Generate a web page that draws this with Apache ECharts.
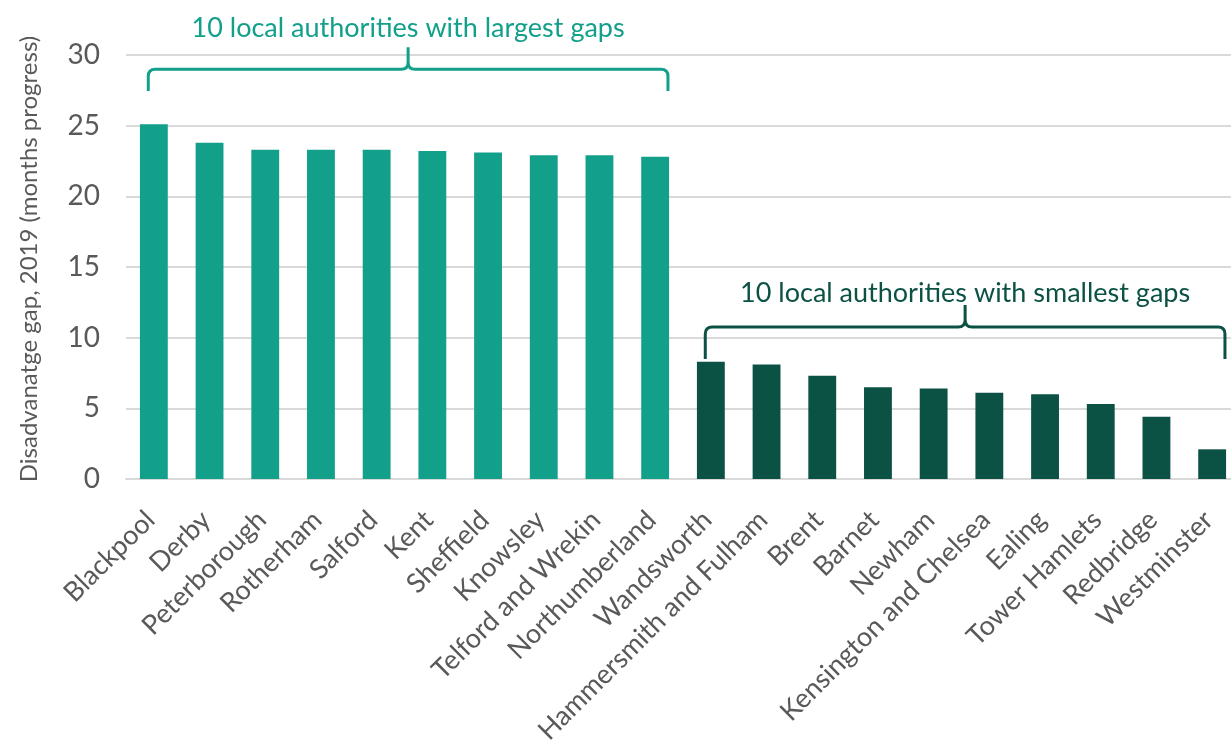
<!DOCTYPE html>
<html><head><meta charset="utf-8">
<script src="https://cdn.jsdelivr.net/npm/echarts@6/dist/echarts.min.js"></script>
<style>html,body{margin:0;padding:0;background:#fff}#c{width:1231px;height:742px}</style>
</head><body><div id="c"></div>
<script>
const categories = ['Blackpool','Derby','Peterborough','Rotherham','Salford','Kent','Sheffield','Knowsley','Telford and Wrekin','Northumberland','Wandsworth','Hammersmith and Fulham','Brent','Barnet','Newham','Kensington and Chelsea','Ealing','Tower Hamlets','Redbridge','Westminster'];
const largestGaps = [25.1,23.8,23.3,23.3,23.3,23.2,23.1,22.9,22.9,22.8];
const smallestGaps = [8.3,8.1,7.3,6.5,6.4,6.1,6.0,5.3,4.4,2.1];
const yMin = 0, yMax = 30, yStep = 5;
const yTitle = 'Disadvanatge gap, 2019 (months progress)';
const bracketLabels = ['10 local authorities with largest gaps','10 local authorities with smallest gaps'];
const bracketStart = [0,10];
const bracketEnd = [9,19];

const FONT = 'Lato';
const TEAL = '#13a08a', DARK = '#0b5144', GREY = '#595959';
// bracket geometry in axis units (tip, line, peak, text)
const bracketGeom = [
  {tip:27.45, line:29.0, peak:30.55, text:31.9, color:TEAL},
  {tip:8.49, line:10.76, peak:12.31, text:13.16, color:DARK}
];

const seriesLarge = categories.map((c,i)=> i < largestGaps.length ? largestGaps[i] : null);
const seriesSmall = categories.map((c,i)=> i >= largestGaps.length ? smallestGaps[i-largestGaps.length] : null);

const chart = echarts.init(document.getElementById('c'), null, {renderer:'canvas'});
chart.setOption({
  animation:false,
  backgroundColor:'#fff',
  grid:{left:126,width:1114,top:55,bottom:263,containLabel:false,outerBoundsMode:'none'},
  xAxis:{
    type:'category', data:categories,
    axisLine:{lineStyle:{color:'#d9d9d9',width:2}},
    axisTick:{show:false},
    axisLabel:{interval:0,rotate:45,fontFamily:FONT,fontSize:27,color:GREY,margin:33,verticalAlign:'middle',padding:[24,5,0,0]}
  },
  yAxis:{
    type:'value', min:yMin, max:yMax, interval:yStep,
    name:yTitle, nameLocation:'middle', nameGap:85,
    nameTextStyle:{fontFamily:FONT,fontSize:24,color:GREY,padding:[0,0,0,16]},
    axisLine:{show:false}, axisTick:{show:false},
    axisLabel:{fontFamily:FONT,fontSize:28,color:GREY,margin:26},
    splitLine:{lineStyle:{color:'#d9d9d9',width:2}}
  },
  series:[
    {type:'bar',data:seriesLarge,barWidth:'50%',barGap:'-100%',itemStyle:{color:TEAL}},
    {type:'bar',data:seriesSmall,barWidth:'50%',barGap:'-100%',itemStyle:{color:DARK}},
    {
      type:'custom', coordinateSystem:'cartesian2d', silent:true, clip:false,
      data: bracketStart.map((s,i)=>[s, bracketEnd[i], i]),
      encode:{x:[0,1]},
      renderItem:function(params, api){
        const s = api.value(0), e = api.value(1), k = api.value(2);
        const g = bracketGeom[k];
        const band = api.size([1,0])[0];
        const p0 = api.coord([s, g.line]);
        const p1 = api.coord([e, g.line]);
        const xl = p0[0] - 0.1*band, xr = p1[0] + 0.23*band;
        const yl = p0[1];
        const ytip = api.coord([s, g.tip])[1];
        const ypk = api.coord([s, g.peak])[1];
        const ytx = api.coord([s, g.text])[1];
        const xm = (xl + xr)/2;
        const r = 7;
        const d = `M${xl},${ytip} L${xl},${yl+r} Q${xl},${yl} ${xl+r},${yl} L${xm-r},${yl} Q${xm},${yl} ${xm},${yl-r} L${xm},${ypk} `+
                  `M${xm},${yl-r} Q${xm},${yl} ${xm+r},${yl} L${xr-r},${yl} Q${xr},${yl} ${xr},${yl+r} L${xr},${ytip}`;
        return {type:'group',children:[
          {type:'path',shape:{pathData:d},style:{stroke:g.color,lineWidth:3,fill:null,lineJoin:'round',lineCap:'butt'}},
          {type:'text',x:xm,y:ytx,style:{text:bracketLabels[k],fill:g.color,font:`27px ${FONT}`,align:'center',verticalAlign:'middle'}}
        ]};
      }
    }
  ]
});
</script>
</body></html>
